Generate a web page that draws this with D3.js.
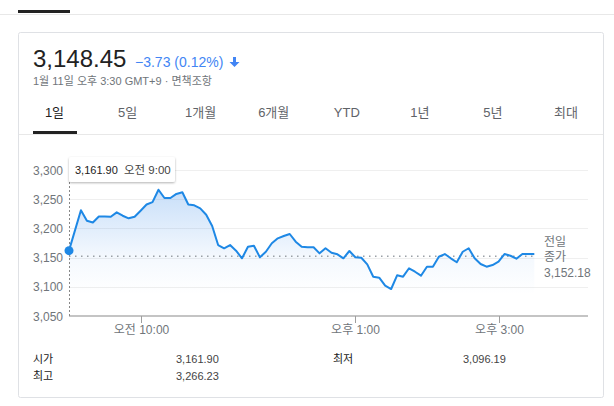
<!DOCTYPE html>
<html>
<head>
<meta charset="utf-8">
<script src="https://cdn.jsdelivr.net/npm/d3@7"></script>
<style>
  body { margin: 0; background: #fff; }
  svg { display: block; font-family: "Liberation Sans", Arial, "Noto Sans CJK KR", sans-serif; }
</style>
</head>
<body>
<div id="chart"></div>
<script>
// intraday values (5 min steps after 9:10)
var times = ["9:00","9:10","9:15","9:20","9:25","9:30","9:35","9:40","9:45","9:50","9:55",
  "10:00","10:05","10:10","10:15","10:20","10:25","10:30","10:35","10:40","10:45","10:50","10:55",
  "11:00","11:05","11:10","11:15","11:20","11:25","11:30","11:35","11:40","11:45","11:50","11:55",
  "12:00","12:05","12:10","12:15","12:20","12:25","12:30","12:35","12:40","12:45","12:50","12:55",
  "13:00","13:05","13:10","13:15","13:20","13:25","13:30","13:35","13:40","13:45","13:50","13:55",
  "14:00","14:05","14:10","14:15","14:20","14:25","14:30","14:35","14:40","14:45","14:50","14:55",
  "15:00","15:05","15:10","15:15","15:20","15:25","15:30"];
var prices = [3161.9,3231,3213,3210,3220.5,3220.5,3220,3227.5,3221.7,3217.3,3220,
  3230.3,3241,3245,3266.2,3252,3252,3259,3261.8,3241,3239.5,3234.4,3223.4,
  3204,3171.5,3166,3171.5,3161.8,3148.8,3168.6,3170.4,3150.5,3160,3174.5,3183,
  3187,3190.4,3177.2,3168.6,3167.6,3167.6,3157.3,3165.9,3158.4,3155.6,3148.8,3161.3,
  3150.5,3149.8,3138.5,3117.3,3115.6,3101.9,3096.2,3119.7,3117.3,3131.7,3125.8,3119,
  3134.4,3134.4,3151.5,3156.1,3148.8,3142,3160,3166,3148.8,3139,3134.4,3137.3,
  3143,3156.1,3153.2,3148.1,3156.1,3156.1,3156.1];

var yTicks = [3050, 3100, 3150, 3200, 3250, 3300];
var xTicks = ["10:00", "13:00", "15:00"];
var xTickLabels = ["오전 10:00", "오후 1:00", "오후 3:00"];
var tabs = ["1일", "5일", "1개월", "6개월", "YTD", "1년", "5년", "최대"];
var prevClose = 3152.18;
var statsLabels = ["시가", "최고", "최저"];
var statsValues = ["3,161.90", "3,266.23", "3,096.19"];

function toMin(s) { var p = s.split(":"); return +p[0] * 60 + +p[1]; }
var data = times.map(function(t, i) { return {t: toMin(t), v: prices[i]}; });

var W = 614, H = 406;
var svg = d3.select("#chart").append("svg").attr("width", W).attr("height", H);

var defs = svg.append("defs");
var grad = defs.append("linearGradient").attr("id", "fillGrad")
  .attr("gradientUnits", "userSpaceOnUse").attr("x1", 0).attr("x2", 0).attr("y1", 185).attr("y2", 295);
grad.append("stop").attr("offset", 0).attr("stop-color", "#1e7be6").attr("stop-opacity", 0.26);
grad.append("stop").attr("offset", 0.65).attr("stop-color", "#1e7be6").attr("stop-opacity", 0.05);
grad.append("stop").attr("offset", 1).attr("stop-color", "#1e7be6").attr("stop-opacity", 0);
var sh = defs.append("filter").attr("id", "shadow").attr("x", "-20%").attr("y", "-40%").attr("width", "140%").attr("height", "180%");
sh.append("feDropShadow").attr("dx", 0).attr("dy", 1).attr("stdDeviation", 1.2).attr("flood-color", "#000").attr("flood-opacity", 0.3);

// page chrome
svg.append("line").attr("x1", 0).attr("x2", W).attr("y1", 14.5).attr("y2", 14.5).attr("stroke", "#e8e8e8");
svg.append("rect").attr("x", 18).attr("y", 10).attr("width", 52).attr("height", 3).attr("fill", "#222");
svg.append("rect").attr("x", 18.5).attr("y", 32.5).attr("width", 585).attr("height", 365)
  .attr("rx", 2).attr("fill", "#fff").attr("stroke", "#dfe1e5");

// header
svg.append("text").attr("x", 33).attr("y", 67).attr("font-size", 24).attr("fill", "#222").text("3,148.45");
svg.append("text").attr("x", 135).attr("y", 67).attr("font-size", 14).attr("fill", "#4285f4").text("−3.73 (0.12%)");
svg.append("path").attr("fill", "#4285f4")
  .attr("d", "M233,57 h3 v5 h3.5 l-5,5 l-5,-5 h3.5 z");
svg.append("text").attr("x", 33).attr("y", 85).attr("font-size", 11).attr("fill", "#70757a")
  .text("1월 11일 오후 3:30 GMT+9 · 면책조항");

// tabs
var tabX = d3.scalePoint().domain(tabs).range([54.5, 566]);
svg.selectAll(".tab").data(tabs).enter().append("text")
  .attr("x", function(d) { return tabX(d); }).attr("y", 117)
  .attr("text-anchor", "middle").attr("font-size", 13)
  .attr("fill", function(d, i) { return i == 0 ? "#222" : "#5f6368"; })
  .text(function(d) { return d; });
svg.append("line").attr("x1", 19).attr("x2", 603).attr("y1", 134.5).attr("y2", 134.5).attr("stroke", "#e8e8e8");
svg.append("rect").attr("x", 33).attr("y", 131).attr("width", 44).attr("height", 3).attr("fill", "#222");

// scales
var x = d3.scaleLinear().domain([toMin("9:00"), toMin("16:15")]).range([69, 588]);
var y = d3.scaleLinear().domain([3050, 3300]).range([316, 170]);

// gridlines
svg.append("g").selectAll("line").data(yTicks.slice(1)).enter().append("line")
  .attr("x1", 69).attr("x2", 588)
  .attr("y1", function(d) { return Math.round(y(d)) + 0.5; })
  .attr("y2", function(d) { return Math.round(y(d)) + 0.5; })
  .attr("stroke", "#efefef");

svg.append("g").selectAll("text").data(yTicks).enter().append("text")
  .attr("x", 63).attr("y", function(d) { return y(d) + 4.5; })
  .attr("text-anchor", "end").attr("font-size", 12).attr("fill", "#70757a")
  .text(function(d) { return d3.format(",")(d); });

// area + line
var area = d3.area().x(function(d) { return x(d.t); }).y0(y(3050)).y1(function(d) { return y(d.v); });
svg.append("path").datum(data).attr("d", area).attr("fill", "url(#fillGrad)");

svg.append("line").attr("x1", 69).attr("x2", x(data[data.length - 1].t))
  .attr("y1", y(prevClose)).attr("y2", y(prevClose))
  .attr("stroke", "#9aa0a6").attr("stroke-width", 1.5).attr("stroke-dasharray", "1.5,4.5");

var line = d3.line().x(function(d) { return x(d.t); }).y(function(d) { return y(d.v); });
svg.append("path").datum(data).attr("d", line).attr("fill", "none")
  .attr("stroke", "#1e88e5").attr("stroke-width", 2).attr("stroke-linejoin", "round");

// x axis
svg.append("line").attr("x1", 69).attr("x2", 588).attr("y1", 316).attr("y2", 316)
  .attr("stroke", "#c4c4c4").attr("stroke-width", 2);
var xt = svg.append("g").selectAll("g").data(xTicks).enter().append("g")
  .attr("transform", function(d) { return "translate(" + (Math.round(x(toMin(d))) + 0.5) + ",0)"; });
xt.append("line").attr("y1", 316).attr("y2", 323).attr("stroke", "#9e9e9e");
xt.append("text").attr("y", 334).attr("text-anchor", "middle").attr("font-size", 12).attr("fill", "#70757a")
  .text(function(d, i) { return xTickLabels[i]; });

// prev close label
var pcl = svg.append("text").attr("x", 544).attr("font-size", 12).attr("fill", "#70757a");
pcl.append("tspan").attr("x", 544).attr("y", 246).text("전일");
pcl.append("tspan").attr("x", 544).attr("y", 261).text("종가");
pcl.append("tspan").attr("x", 544).attr("y", 277).text(d3.format(",.2f")(prevClose));

// hover marker + tooltip at first point
svg.append("line").attr("x1", 69.5).attr("x2", 69.5).attr("y1", 182).attr("y2", 316)
  .attr("stroke", "#888").attr("stroke-dasharray", "2,2");
svg.append("circle").attr("cx", x(data[0].t)).attr("cy", y(data[0].v)).attr("r", 4.5).attr("fill", "#1e88e5");
svg.append("rect").attr("x", 69).attr("y", 157).attr("width", 106).attr("height", 25).attr("rx", 2)
  .attr("fill", "#fff").attr("filter", "url(#shadow)");
svg.append("text").attr("x", 75).attr("y", 174).attr("font-size", 11).attr("fill", "#222")
  .text(d3.format(",.2f")(data[0].v));
svg.append("text").attr("x", 124).attr("y", 174).attr("font-size", 11.5).attr("fill", "#444").text("오전 9:00");

// stats table
var statPos = [[33, 176, 363], [33, 176, 380], [333, 463, 363]];
statsLabels.forEach(function(l, i) {
  svg.append("text").attr("x", statPos[i][0]).attr("y", statPos[i][2]).attr("font-size", 11).attr("fill", "#222").text(l);
  svg.append("text").attr("x", statPos[i][1]).attr("y", statPos[i][2]).attr("font-size", 11).attr("fill", "#444").text(statsValues[i]);
});
</script>
</body>
</html>
